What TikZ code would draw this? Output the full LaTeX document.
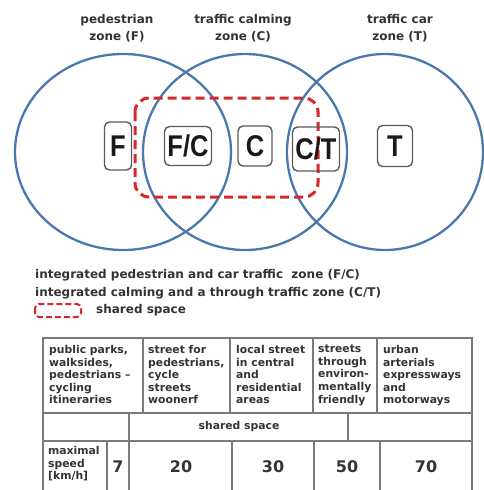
\documentclass[tikz,border=0pt]{standalone}
\usepackage{fontspec}
\setmainfont{DejaVu Sans}
\newfontfamily\boxfont{Liberation Sans}
\definecolor{zoneblue}{HTML}{4A78AC}
\definecolor{dashred}{HTML}{D8262C}
\definecolor{txt}{HTML}{333333}
\definecolor{gridgray}{HTML}{7A7A7A}
\definecolor{boxgray}{HTML}{5A5A5A}
\begin{document}
\begin{tikzpicture}[x=1pt,y=-1pt,
  zone/.style={draw=zoneblue,line width=2.3pt},
  shared/.style={draw=dashred,line width=3pt,dash pattern=on 9pt off 5pt,rounded corners=14pt},
  letterbox/.style={draw=boxgray,line width=1.4pt,rounded corners=5pt,inner sep=0pt,
    font=\boxfont\bfseries\fontsize{30}{30}\selectfont,text=black!90},
  title/.style={align=center,text=txt,font=\bfseries\fontsize{12}{17}\selectfont,inner sep=0pt},
  legend/.style={anchor=west,text=txt,font=\bfseries\fontsize{12}{12}\selectfont,inner sep=0pt},
  cell/.style={anchor=north west,align=left,text=txt,inner sep=0pt,font=\bfseries\fontsize{10.8}{12.6}\selectfont},
  num/.style={text=txt,inner sep=0pt,font=\bfseries\fontsize{16}{16}\selectfont},
  grid/.style={draw=gridgray,line width=1.4pt}]
\useasboundingbox (0,0) rectangle (484,490);
% titles
\node[title] (tF) at (117,28.5) {pedestrian\\zone (F)};
\node[title] (tC) at (243,28.5) {traffic calming\\zone (C)};
\node[title] (tT) at (400,28.5) {traffic car\\zone (T)};
% zones
\draw[zone] (123,152) ellipse [x radius=108, y radius=98];
\draw[zone] (245,152) ellipse [x radius=102, y radius=98];
\draw[zone] (385,152) ellipse [x radius=98, y radius=98];
% shared space
\draw[shared] (135,98) rectangle (318,197);
% letter boxes
\node[letterbox,minimum width=27pt,minimum height=48pt] (bF) at (118,146) {\scalebox{0.85}[1]{F}};
\node[letterbox,minimum width=47pt,minimum height=39pt] (bFC) at (188,146) {\scalebox{0.85}[1]{F/C}};
\node[letterbox,minimum width=34pt,minimum height=40pt] (bC) at (255,146) {\scalebox{0.85}[1]{C}};
\node[letterbox,minimum width=47pt,minimum height=44pt] (bCT) at (316,149) {\scalebox{0.85}[1]{C/T}};
\node[letterbox,minimum width=35pt,minimum height=41pt] (bT) at (395,146) {\scalebox{0.85}[1]{T}};
% legend
\node[legend] (l1) at (35,275) {integrated pedestrian and car traffic \ zone (F/C)};
\node[legend] (l2) at (35,293) {integrated calming and a through traffic zone (C/T)};
\draw[draw=dashred,line width=2pt,dash pattern=on 6pt off 3pt,rounded corners=4pt] (35,304) rectangle (81,317);
\node[legend] (l3) at (96,310) {shared space};
% table
\draw[grid] (43,490) -- (43,338) -- (472,338) -- (472,490);
\draw[grid] (43,413) -- (472,413);
\draw[grid] (43,441) -- (472,441);
\foreach \x in {143,230,313,377} \draw[grid] (\x,338) -- (\x,413);
\foreach \x in {129,348} \draw[grid] (\x,413) -- (\x,441);
\foreach \x in {107,129,232,314,380} \draw[grid] (\x,441) -- (\x,490);
\node[cell] (c1) at (49,345) {public parks,\\walksides,\\pedestrians --\\cycling\\itineraries};
\node[cell] (c2) at (148,345) {street for\\pedestrians,\\cycle\\streets\\woonerf};
\node[cell] (c3) at (236,345) {local street\\in central\\and\\residential\\areas};
\node[cell] (c4) at (318,345) {streets\\through\\environ-\\mentally\\friendly};
\node[cell] (c5) at (383,345) {urban\\arterials\\expressways\\and\\motorways};
\node[text=txt,inner sep=0pt,font=\bfseries\fontsize{10.8}{12}\selectfont] (ss) at (239,427) {shared space};
\node[cell] (ms) at (48,446) {maximal\\speed\\{[km/h]}};
\node[num] (n7) at (118,467) {7};
\node[num] (n20) at (181,467) {20};
\node[num] (n30) at (273,467) {30};
\node[num] (n50) at (347,467) {50};
\node[num] (n70) at (426,467) {70};
\end{tikzpicture}
\end{document}
